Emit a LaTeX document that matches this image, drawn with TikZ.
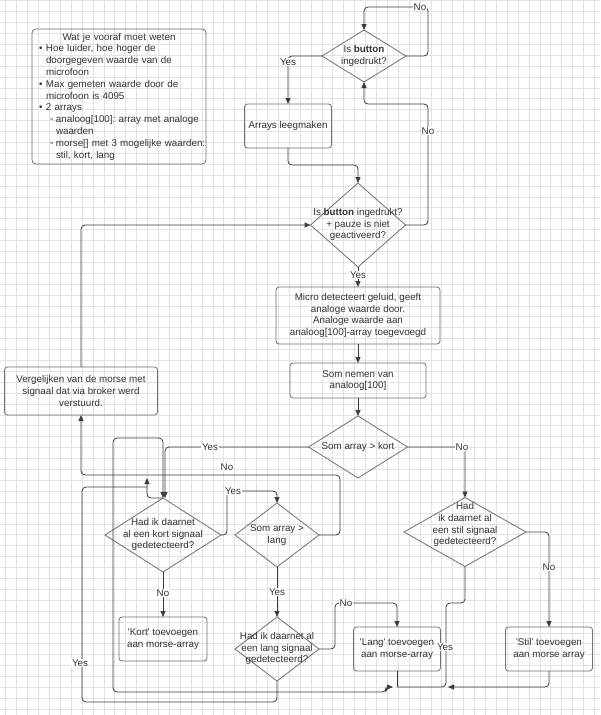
\documentclass[tikz,border=0pt]{standalone}
\usepackage{fontspec}
\setmainfont{Liberation Sans}
\usetikzlibrary{positioning,shapes.geometric,arrows.meta,calc}
\definecolor{ink}{HTML}{333333}
\definecolor{wirec}{HTML}{3C3C3C}
\definecolor{rim}{HTML}{707070}
\definecolor{gridc}{HTML}{E2E2E2}
\newcommand{\dtxt}[2][0pt]{\makebox[0pt]{\raisebox{\dimexpr-2.3pt+#1\relax}[0pt][0pt]{\begin{tabular}{@{}c@{}}#2\end{tabular}}}}
\newcommand{\q}{\textquotesingle}
\frenchspacing
\begin{document}
\begin{tikzpicture}
[x=1pt,y=-1pt,
 every node/.style={font=\fontsize{9.8}{11.8}\selectfont,text=ink,outer sep=0pt},
 box/.style={rectangle,draw=rim,line width=0.8pt,rounded corners=3pt,align=center,inner sep=0pt},
 dec/.style={diamond,draw=rim,line width=0.8pt,inner sep=0pt},
 note/.style={rectangle,draw=rim,line width=0.8pt,rounded corners=4pt,align=left,inner sep=0pt,text width=160pt},
 lbl/.style={fill=white,inner sep=1pt},
 wire/.style={draw=wirec,line width=0.8pt,rounded corners=4pt},
 >={Triangle[length=6pt,width=5pt]}]
\useasboundingbox (0,0) rectangle (600,715);
\fill[white] (0,0) rectangle (600,715);
\foreach \i in {0,...,54} \draw[gridc,line width=0.6pt] ({5.7+10.9*\i},0) -- ({5.7+10.9*\i},715);
\foreach \i in {0,...,65} \draw[gridc,line width=0.6pt] (0,{0.6+10.9*\i}) -- (600,{0.6+10.9*\i});

\node[note,minimum width=174pt,minimum height=135pt] (info) at (119,96.5)
 {\makebox[\linewidth][c]{Wat je vooraf moet weten}\\
  \mbox{\makebox[7pt][l]{•}Hoe luider, hoe hoger de}\\
  \mbox{\hspace*{7pt}doorgegeven waarde van de}\\
  \mbox{\hspace*{7pt}microfoon}\\
  \mbox{\makebox[7pt][l]{•}Max gemeten waarde door de}\\
  \mbox{\hspace*{7pt}microfoon is 4095}\\
  \mbox{\makebox[7pt][l]{•}2 arrays}\\
  \mbox{\hspace*{11pt}\makebox[6pt][l]{◦}analoog[100]: array met analoge}\\
  \mbox{\hspace*{17pt}waarden}\\
  \mbox{\hspace*{11pt}\makebox[6pt][l]{◦}morse[] met 3 mogelijke waarden:}\\
  \mbox{\hspace*{17pt}stil, kort, lang}};

\node[dec,minimum width=84pt,minimum height=52pt] (d1) at (364,56) {\dtxt{Is \textbf{button}\\ingedrukt?}};
\node[box,minimum width=87pt,minimum height=44pt] (arrays) [on grid,below left=70pt and 76pt of d1] {Arrays leegmaken};
\node[dec,minimum width=95pt,minimum height=84pt] (d2) [on grid,below right=99pt and 70pt of arrays] {\dtxt{Is \textbf{button} ingedrukt?\\+ pauze is niet\\geactiveerd?}};
\node[box,minimum width=164pt,minimum height=57pt] (micro) [on grid,below=90.5pt of d2] {Micro detecteert geluid, geeft\\analoge waarde door.\\Analoge waarde aan\\analoog[100]-array toegevoegd};
\node[box,minimum width=136pt,minimum height=35pt] (som) [on grid,below=65pt of micro] {Som nemen van\\analoog[100]};
\node[dec,minimum width=99pt,minimum height=62pt] (d3) [on grid,below=66.5pt of som] {\dtxt{Som array > kort}};
\node[box,minimum width=153pt,minimum height=48pt] (verg) at (81,391) {Vergelijken van de morse met\\signaal dat via broker werd\\verstuurd.};
\node[dec,minimum width=116pt,minimum height=74pt] (d4) at (163,535) {\dtxt{Had ik daarnet\\al een kort signaal\\gedetecteerd?}};
\node[box,minimum width=88pt,minimum height=44pt] (kort) [on grid,below=104pt of d4] {\q Kort\q\ toevoegen\\aan morse-array};
\node[dec,minimum width=84pt,minimum height=64pt] (d5) [on grid,right=114pt of d4] {\dtxt{Som array >\\lang}};
\node[dec,minimum width=84pt,minimum height=64pt] (dlang) [on grid,below=114pt of d5] {\dtxt{Had ik daarnet al\\een lang signaal\\gedetecteerd?}};
\node[box,minimum width=87pt,minimum height=44pt] (lang) [on grid,right=120pt of dlang] {\q Lang\q\ toevoegen\\aan morse-array};
\node[dec,minimum width=122pt,minimum height=69pt] (dstil) [on grid,below right=85pt and 107pt of d3] {\dtxt[7pt]{Had\\ik daarnet al\\een stil signaal\\gedetecteerd?}};
\node[box,minimum width=87pt,minimum height=44pt] (stil) [on grid,below right=117pt and 84pt of dstil] {\q Stil\q\ toevoegen\\aan morse array};

% joins where lines meet other lines
\coordinate (j1) at (147,478);
\coordinate (j2) at (147,487);
\coordinate (j3) at (448,687);
\coordinate (j4) at (393,687);
\coordinate (mrg) at (397,687);

\draw[wire,->] (d1.east) -- (428,56) -- (428,7) -| (d1.north);
\draw[wire,->] (d1.west) -| (arrays.north);
\draw[wire,->] (arrays.south) -- (288,165) -| (d2.north);
\draw[wire,->] (d2.east) -- (428,225) -- (428,104) -| (d1.south);
\draw[wire,->] (d2.south) -- (micro.north);
\draw[wire,->] (micro.south) -- (som.north);
\draw[wire,->] (som.south) -- (d3.north);
\draw[wire,->] (d3.east) -| (dstil.north);
\draw[wire,->] (d3.west) -| ($(d4.north)+(2,0)$);
\draw[wire,->] (verg.north) |- (d2.west);
\draw[wire,->] (d5.east) -- (340,535) -- (340,475) -| (verg.south);
\draw[wire,->] (d4.north) -| (j1);
\draw[wire] (dlang.south) -- (277,702) -- (82,702) -- (82,487) -- (j2);
\draw[wire,->] (d4.east) -- (227,535) -- (227,491) -| (d5.north);
\draw[wire,->] (d4.south) -- (kort.north);
\draw[wire,->] (d5.south) -- (dlang.north);
\draw[wire,->] (dlang.east) -- (335,649) -- (335,603) -| (lang.north);
\draw[wire,->] (dstil.east) -| (stil.north);
\draw[wire] (dstil.south) -- (465,603) -- (446,603) -- (446,687) -- (mrg);
\draw[wire,->] (stil.south) |- (j3);
\draw[wire] (lang.south) -- (mrg);
\draw[wire,<->] (d4.north) |- (113,438) -- (113,692) -- (386,692) |- (j4);

\node[lbl] (no1)  at (420,7)   {No};
\node[lbl] (yes1) at (288,62)  {Yes};
\node[lbl] (no2)  at (428,131) {No};
\node[lbl] (yes2) at (358,275) {Yes};
\node[lbl] (no3)  at (462,447) {No};
\node[lbl] (yes3) at (210,447) {Yes};
\node[lbl] (no4)  at (227,467) {No};
\node[lbl] (yes4) at (233,491) {Yes};
\node[lbl] (no5)  at (163,593) {No};
\node[lbl] (yes5) at (277,592) {Yes};
\node[lbl] (no6)  at (346,603) {No};
\node[lbl] (no7)  at (549,567) {No};
\node[lbl] (yes6) at (445,647) {Yes};
\node[lbl] (yes7) at (80,663)  {Yes};
\end{tikzpicture}
\end{document}
